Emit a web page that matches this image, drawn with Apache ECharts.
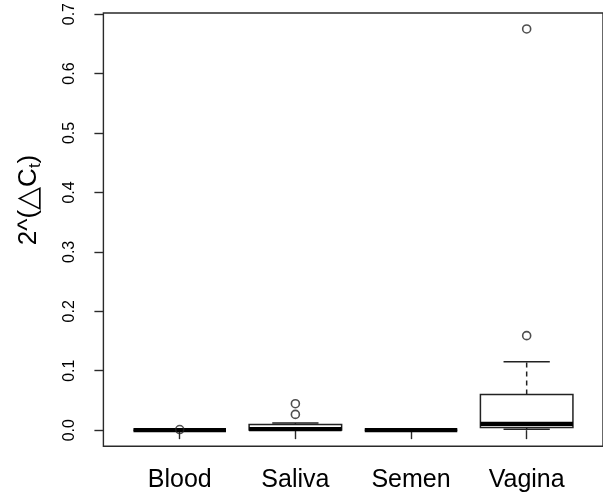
<!DOCTYPE html>
<html>
<head>
<meta charset="utf-8">
<script src="https://cdn.jsdelivr.net/npm/echarts@6/dist/echarts.min.js"></script>
<style>html,body{margin:0;padding:0;background:#fff;}#c{width:603px;height:494px;}</style>
</head>
<body>
<div id="c"></div>
<script>
var categories = ['Blood', 'Saliva', 'Semen', 'Vagina'];
var boxMin    = [0, 0,      0, 0.0017];
var boxQ1     = [0, 0.0003, 0, 0.0045];
var boxMedian = [0, 0.0018, 0, 0.0105];
var boxQ3     = [0, 0.0095, 0, 0.060];
var boxMax    = [0, 0.012,  0, 0.115];
var outBlood  = [0.001];
var outSaliva = [0.0265, 0.0445];
var outSemen  = [];
var outVagina = [0.159, 0.675];
var yTicks = [0, 0.1, 0.2, 0.3, 0.4, 0.5, 0.6, 0.7];

var outliers = [outBlood, outSaliva, outSemen, outVagina];
var boxData = categories.map(function (c, i) {
  return [i + 1, boxMin[i], boxQ1[i], boxMedian[i], boxQ3[i], boxMax[i]];
});
var outData = [];
outliers.forEach(function (arr, i) {
  arr.forEach(function (v) { outData.push([i + 1, v]); });
});

var ink = '#222';
var chart = echarts.init(document.getElementById('c'));
chart.setOption({
  animation: false,
  backgroundColor: '#fff',
  grid: { left: 103.4, top: 8.8, width: 501, height: 437.4, show: true, borderColor: '#2a2a2a', borderWidth: 1.4, backgroundColor: 'transparent' },
  xAxis: {
    type: 'value', min: 0.34, max: 4.66,
    splitLine: { show: false },
    axisLine: { show: false },
    axisTick: { show: true, length: 9, lineStyle: { color: '#2a2a2a', width: 1.4 }, customValues: [1, 2, 3, 4] },
    axisLabel: {
      customValues: [1, 2, 3, 4],
      formatter: function (v) { return categories[Math.round(v) - 1] || ''; },
      fontFamily: 'Liberation Sans', fontSize: 25, color: '#000', margin: 21
    }
  },
  yAxis: {
    type: 'value', min: -0.027, max: 0.702,
    splitLine: { show: false },
    axisLine: { show: false },
    axisTick: { show: true, length: 9, lineStyle: { color: '#2a2a2a', width: 1.4 }, customValues: yTicks },
    axisLabel: {
      customValues: yTicks, rotate: 90,
      formatter: function (v) { return v.toFixed(1); },
      fontFamily: 'Liberation Sans', fontSize: 16, color: '#000', margin: 26
    }
  },
  graphic: [{
    type: 'text', x: 29, y: 200, rotation: Math.PI / 2,
    style: {
      text: '2^({tri|△}C{sub|t})',
      fontFamily: 'Liberation Sans', fontSize: 26, fill: '#000',
      align: 'center', verticalAlign: 'middle',
      rich: {
        tri: { fontSize: 30, fontFamily: 'DejaVu Sans' },
        sub: { fontSize: 17, fontFamily: 'Liberation Sans', padding: [12, 0, 0, 0] }
      }
    }
  }],
  series: [{
    type: 'custom',
    data: boxData,
    encode: { x: 0, y: [1, 2, 3, 4, 5] },
    renderItem: function (params, api) {
      var x = api.value(0);
      var mn = api.value(1), q1 = api.value(2), md = api.value(3), q3 = api.value(4), mx = api.value(5);
      var bl = api.coord([x - 0.4, q3]), br = api.coord([x + 0.4, q1]);
      var cx = api.coord([x, 0])[0];
      var capL = api.coord([x - 0.2, 0])[0], capR = api.coord([x + 0.2, 0])[0];
      var yMin = api.coord([x, mn])[1], yMax = api.coord([x, mx])[1];
      var yQ1 = br[1], yQ3 = bl[1], yMd = api.coord([x, md])[1];
      var ls = { stroke: ink, lineWidth: 1.5, fill: null };
      var dash = { stroke: ink, lineWidth: 1.5, lineDash: [5, 4] };
      return {
        type: 'group',
        children: [
          { type: 'line', shape: { x1: cx, y1: yQ3, x2: cx, y2: yMax }, style: dash },
          { type: 'line', shape: { x1: cx, y1: yQ1, x2: cx, y2: yMin }, style: dash },
          { type: 'line', shape: { x1: capL, y1: yMax, x2: capR, y2: yMax }, style: ls },
          { type: 'line', shape: { x1: capL, y1: yMin, x2: capR, y2: yMin }, style: ls },
          { type: 'rect', shape: { x: bl[0], y: yQ3, width: br[0] - bl[0], height: yQ1 - yQ3 }, style: { stroke: ink, lineWidth: 1.5, fill: '#fff' } },
          { type: 'line', shape: { x1: bl[0], y1: yMd, x2: br[0], y2: yMd }, style: { stroke: '#000', lineWidth: 4.2 } }
        ]
      };
    },
    z: 2
  }, {
    type: 'scatter',
    data: outData,
    symbol: 'circle', symbolSize: 8,
    itemStyle: { color: 'transparent', borderColor: ink, borderWidth: 1.6 },
    z: 3
  }]
});
</script>
</body>
</html>
